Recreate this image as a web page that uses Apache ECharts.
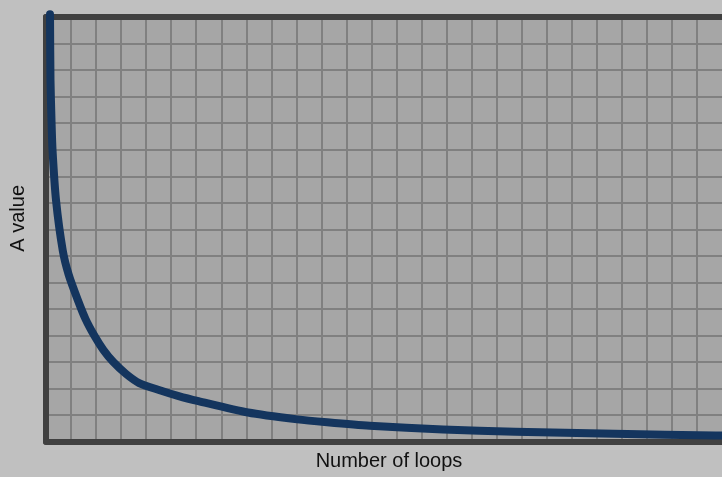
<!DOCTYPE html>
<html>
<head>
<meta charset="utf-8">
<script src="https://cdn.jsdelivr.net/npm/echarts@6/dist/echarts.min.js"></script>
<style>
html,body{margin:0;padding:0;background:#c0c0c0;}
#chart{width:722px;height:477px;}
</style>
</head>
<body>
<div id="chart"></div>
<script>
// Data (x in grid cells, y in grid cells)
const loops = [0.16, 0.18, 0.22, 0.26, 0.40, 0.67, 0.91, 1.27, 1.58, 1.94, 2.29, 2.69, 3.20, 3.72, 4.51, 5.30, 6.09, 8.07, 10.04, 11.23, 12.93, 15.86, 18.74, 22.70, 26.73, 27.2];
const values = [16.1, 13.6, 12.1, 11.0, 9.1, 7.2, 6.28, 5.34, 4.62, 3.98, 3.46, 3.00, 2.55, 2.21, 1.95, 1.72, 1.53, 1.10, 0.84, 0.73, 0.60, 0.46, 0.377, 0.298, 0.234, 0.226];
const xName = 'Number of loops';
const yName = 'A value';

const points = loops.map((x, i) => [x, values[i]]);
const chart = echarts.init(document.getElementById('chart'), null, {renderer: 'canvas'});
const borderLine = {show: true, lineStyle: {color: '#404040', width: 6}};
const nameStyle = {fontFamily: 'Liberation Sans, Arial, sans-serif', fontSize: 20, color: '#111'};
chart.setOption({
  backgroundColor: '#c0c0c0',
  animation: false,
  grid: {left: 46, top: 17, bottom: 35.3, right: -6.8, show: true, backgroundColor: '#a6a6a6', borderWidth: 0},
  xAxis: [
    {type: 'value', min: 0, max: 27, interval: 1, position: 'bottom', z: 1,
     name: xName, nameLocation: 'middle', nameGap: 10,
     nameTextStyle: Object.assign({padding: [0, 0, 0, 10]}, nameStyle),
     axisLine: {show: false}, axisTick: {show: false}, axisLabel: {show: false},
     splitLine: {show: true, showMinLine: false, showMaxLine: false, lineStyle: {color: '#808080', width: 2}}},
    {type: 'value', min: 0, max: 27, interval: 1, position: 'bottom', z: 3,
     axisLine: borderLine, axisTick: {show: false}, axisLabel: {show: false}, splitLine: {show: false}},
    {type: 'value', min: 0, max: 27, interval: 1, position: 'top', z: 3,
     axisLine: borderLine, axisTick: {show: false}, axisLabel: {show: false}, splitLine: {show: false}}
  ],
  yAxis: [
    {type: 'value', min: 0, max: 16, interval: 1, position: 'left', z: 1,
     name: yName, nameLocation: 'middle', nameGap: 18,
     nameTextStyle: Object.assign({padding: [0, 0, 0, 22]}, nameStyle),
     axisLine: {show: false}, axisTick: {show: false}, axisLabel: {show: false},
     splitLine: {show: true, showMinLine: false, showMaxLine: false, lineStyle: {color: '#808080', width: 2}}},
    {type: 'value', min: 0, max: 16, interval: 1, position: 'left', z: 3,
     axisLine: borderLine, axisTick: {show: false}, axisLabel: {show: false}, splitLine: {show: false}}
  ],
  series: [{
    type: 'line', data: points, xAxisIndex: 0, yAxisIndex: 0, z: 5,
    showSymbol: false, symbol: 'none', clip: false,
    smooth: 0.25,
    lineStyle: {color: '#14355e', width: 8, cap: 'round', join: 'round'}
  }]
});
</script>
</body>
</html>
